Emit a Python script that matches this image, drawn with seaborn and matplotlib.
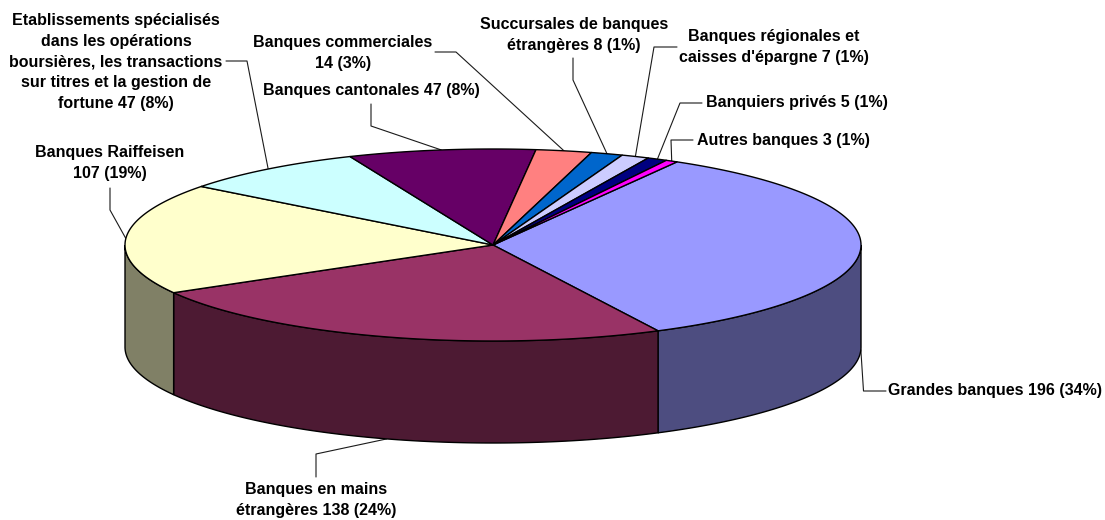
# 3D style pie of Swiss bank categories, drawn by hand on a pixel-like axes
import numpy as np
import matplotlib
matplotlib.use("Agg")
import matplotlib.pyplot as plt
import seaborn as sns

sns.set_theme(style="white")
plt.rcParams["font.family"] = ["Liberation Sans", "DejaVu Sans"]

# %% data
categories = ["Grandes banques", "Banques en mains\nétrangères", "Banques Raiffeisen\n",
              "Etablissements spécialisés\ndans les opérations\nboursières, les transactions\nsur titres et la gestion de\nfortune",
              "Banques cantonales", "Banques commerciales\n", "Succursales de banques\nétrangères",
              "Banques régionales et\ncaisses d'épargne", "Banquiers privés", "Autres banques"]
values = [196, 138, 107, 47, 47, 14, 8, 7, 5, 3]
shares = [34, 24, 19, 8, 8, 3, 1, 1, 1, 1]
top_colors = ["#9999FF", "#993366", "#FFFFCC", "#CCFFFF", "#660066",
              "#FF8080", "#0066CC", "#CCCCFF", "#000080", "#FF00FF"]

# %% layout
cx, cy, rx, ry = 493.0, 245.0, 368.0, 96.0
depth = 102.0
start_angle = 60.0
label_pos = [(995, 391), (316, 500), (110, 163), (116, 62), (371, 90),
             (343, 53), (574, 35), (774, 47), (797, 103), (783, 140)]
elbows = [[(863.5, 391), (886, 391)], [(316, 454), (316, 477)], [(110, 210), (110, 188)],
          [(247, 61), (226, 61)], [(371, 126), (371, 104)], [(456, 52), (435, 52)],
          [(573, 80), (573, 58)], [(654, 47), (677, 47)], [(680, 103), (702, 103)],
          [(671, 140), (693, 140)]]

palette = sns.color_palette(top_colors)
side_colors = [tuple(c * 0.5 for c in col) for col in palette]


def rim(t_deg, drop=0.0):
    t = np.radians(t_deg)
    return np.column_stack([cx + rx * np.cos(t), cy - ry * np.sin(t) + drop])


# slices run clockwise from the start angle
sweep = np.array(values) / sum(values) * 360.0
ends = start_angle - np.cumsum(sweep)
starts = ends + sweep

fig, ax = plt.subplots(figsize=(11.05, 5.2), dpi=100)
fig.subplots_adjust(0, 0, 1, 1)
ax.set_xlim(0, 1105)
ax.set_ylim(520, 0)
ax.axis("off")

# side walls, only the front half of the pie shows
for s, e, col in zip(starts, ends, side_colors):
    hi, lo = min(s, 0.0), max(e, -180.0)
    if hi <= lo:
        continue
    ts = np.linspace(hi, lo, 120)
    wall = np.vstack([rim(ts), rim(ts[::-1], depth)])
    ax.fill(wall[:, 0], wall[:, 1], facecolor=col, edgecolor="black", lw=1.0, zorder=2)

# top face
for s, e, col in zip(starts, ends, palette):
    ts = np.linspace(s, e, max(int(s - e) * 3, 8))
    top = np.vstack([[[cx, cy]], rim(ts)])
    ax.fill(top[:, 0], top[:, 1], facecolor=col, edgecolor="black", lw=1.0,
            joinstyle="round", zorder=3)

# leader lines and labels
mids = (starts + ends) / 2
for i, (name, v, p) in enumerate(zip(categories, values, shares)):
    sep = "" if name.endswith("\n") else " "
    # the two bottom labels point at the outer wall, the rest at the top rim
    drop = depth if i < 2 else 0.0
    anchor = rim(np.array([mids[i]]), drop)[0]
    pts = np.vstack([anchor, elbows[i]])
    ax.plot(pts[:, 0], pts[:, 1], color="#1a1a1a", lw=0.8, zorder=1)
    ax.text(label_pos[i][0], label_pos[i][1], f"{name}{sep}{v} ({p}%)", ha="center", va="center",
            fontsize=11.5, fontweight="bold", color="black", linespacing=1.46, zorder=4)

fig.savefig("out.png", dpi=100, facecolor="white")
